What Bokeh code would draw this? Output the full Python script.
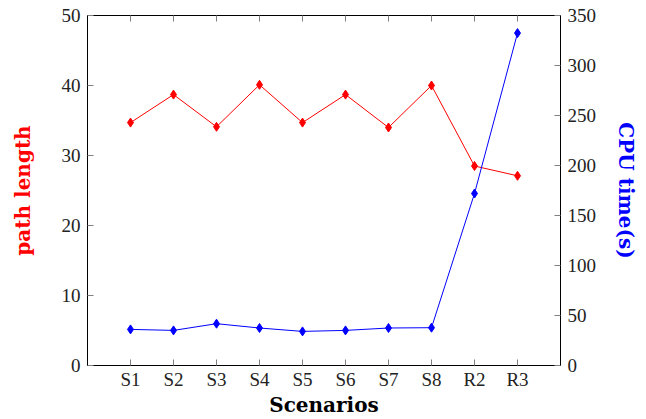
from bokeh.plotting import figure
from bokeh.models import Range1d, LinearAxis, FixedTicker
from bokeh.embed import file_html
from bokeh.resources import INLINE

categories = ["S1", "S2", "S3", "S4", "S5", "S6", "S7", "S8", "R2", "R3"]
path_length = [34.7, 38.7, 34.1, 40.1, 34.7, 38.7, 34.0, 40.0, 28.5, 27.1]
cpu_time = [36.1, 35.1, 41.8, 37.5, 34.1, 35.1, 37.5, 37.8, 172.0, 332.4]
left_ticks = [0, 10, 20, 30, 40, 50]
right_ticks = [0, 50, 100, 150, 200, 250, 300, 350]

x = list(range(1, len(categories) + 1))

FONT = "Liberation Serif"
LABEL_FONT = "DejaVu Serif"
TICK_FS = "19px"
LABEL_FS = "20px"

p = figure(width=646, height=419, output_backend="svg", toolbar_location=None,
           x_range=Range1d(0, len(categories) + 1), y_range=Range1d(0, 50),
           min_border_left=87, min_border_right=86, min_border_top=15,
           min_border_bottom=53)
p.grid.visible = False
p.outline_line_color = "black"
p.outline_line_width = 1
p.background_fill_color = "white"
p.border_fill_color = "white"

p.extra_y_ranges = {"cpu": Range1d(0, 350)}


def style_axis(ax):
    ax.axis_line_color = "black"
    ax.axis_line_width = 1
    ax.major_tick_in = 6
    ax.major_tick_out = 0
    ax.minor_tick_in = 0
    ax.minor_tick_out = 0
    ax.major_tick_line_color = "#808080"
    ax.major_tick_line_width = 1
    ax.major_label_text_font = FONT
    ax.major_label_text_font_size = TICK_FS
    ax.major_label_text_color = "#222222"
    ax.axis_label_text_font = LABEL_FONT
    ax.axis_label_text_font_size = LABEL_FS
    ax.axis_label_text_font_style = "bold"


# bottom axis
xa = p.xaxis[0]
style_axis(xa)
xa.ticker = FixedTicker(ticks=x)
xa.major_label_overrides = {xi: c for xi, c in zip(x, categories)}
xa.major_label_standoff = 3
xa.axis_label = "Scenarios"
xa.axis_label_standoff = 0
xa.axis_label_text_color = "black"

# left axis
ya = p.yaxis[0]
style_axis(ya)
ya.ticker = FixedTicker(ticks=left_ticks)
ya.major_label_standoff = 7
ya.axis_label = "path length"
ya.axis_label_text_color = "#ff0000"
ya.axis_label_standoff = 24

# right axis
ra = LinearAxis(y_range_name="cpu", ticker=FixedTicker(ticks=right_ticks))
style_axis(ra)
ra.major_label_standoff = 7
ra.axis_label = "CPU time(s)"
ra.axis_label_text_color = "#0000ff"
ra.axis_label_standoff = 15
p.add_layout(ra, "right")

# top axis (ticks only)
ta = LinearAxis(ticker=FixedTicker(ticks=x))
style_axis(ta)
ta.major_label_overrides = {xi: "" for xi in x}
ta.major_label_standoff = 0
p.add_layout(ta, "above")

# series
p.line(x, path_length, line_color="#ff0000", line_width=1)
p.scatter(x, path_length, marker="diamond", size=9, fill_color="#ff0000",
          line_color="#ff0000")
p.line(x, cpu_time, line_color="#0000ff", line_width=1, y_range_name="cpu")
p.scatter(x, cpu_time, marker="diamond", size=9, fill_color="#0000ff",
          line_color="#0000ff", y_range_name="cpu")

open("out.html", "w").write(file_html(p, INLINE))
